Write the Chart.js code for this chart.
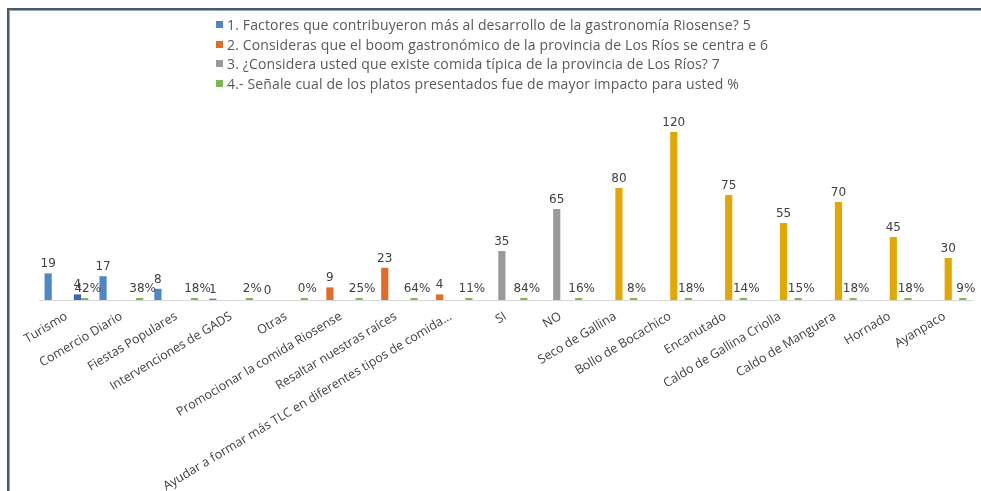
<!DOCTYPE html>
<html lang="es">
<head>
  <meta charset="UTF-8">
  <title>Gastronomía Riosense</title>
  <script src="https://cdn.jsdelivr.net/npm/chart.js"></script>
  <style>
    body {
      margin: 0;
      background: #fff;
    }
    #wrap {
      position: relative;
      width: 981px;
      height: 491px;
      overflow: hidden;
    }
    #frame {
      position: absolute;
      left: 7px;
      top: 8px;
      right: -10px;
      bottom: -10px;
      border-top: 2px solid #4a586b;
      border-left: 2px solid #4a586b;
      box-shadow: inset 1px 1px 0 #9aa6b4;
      pointer-events: none;
    }
    #legend {
      position: absolute;
      left: 216px;
      top: 15px;
      font-family: "Open Sans", sans-serif;
      font-size: 14px;
      letter-spacing: 0.15px;
      color: #595959;
    }
    .item {
      height: 19.5px;
      line-height: 19px;
      white-space: nowrap;
    }
    .item span {
      display: inline-block;
      width: 7px;
      height: 7px;
      margin-right: 4px;
      vertical-align: 2px;
    }
  </style>
</head>
<body>
  <div id="wrap">
    <canvas id="chart" width="981" height="491"></canvas>
    <div id="legend"></div>
    <div id="frame"></div>
  </div>

  <script>
    const categories = [
      'Turismo', 'Comercio Diario', 'Fiestas Populares', 'Intervenciones de GADS', 'Otras',
      'Promocionar la comida Riosense', 'Resaltar nuestras raíces',
      'Ayudar a formar más TLC en diferentes tipos de comida...',
      'SI', 'NO', 'Seco de Gallina', 'Bollo de Bocachico', 'Encanutado',
      'Caldo de Gallina Criolla', 'Caldo de Manguera', 'Hornado', 'Ayanpaco'
    ];

    // question 1 (blue)
    const factores = [19, 17, 8, 1, 0, null, null, null, null, null, null, null, null, null, null, null, null];
    // question 2 (orange)
    const boom = [null, null, null, null, null, 9, 23, 4, null, null, null, null, null, null, null, null, null];
    // question 3 (gray)
    const comidaTipica = [null, null, null, null, null, null, null, null, 35, 65, null, null, null, null, null, null, null];
    // dishes counts (gold, not in legend)
    const platos = [null, null, null, null, null, null, null, null, null, null, 80, 120, 75, 55, 70, 45, 30];
    // extra value on Turismo (dark blue, not in legend)
    const otros = [4, null, null, null, null, null, null, null, null, null, null, null, null, null, null, null, null];
    // percentages (green)
    const porcentajes = [0.42, 0.38, 0.18, 0.02, 0, 0.25, 0.64, 0.11, 0.84, 0.16, 0.08, 0.18, 0.14, 0.15, 0.18, 0.18, 0.09];

    const datasets = [
      { label: '1. Factores que contribuyeron más al desarrollo de la gastronomía Riosense? 5', data: factores, backgroundColor: '#4f86c6', inLegend: true },
      { label: '2. Consideras que el boom gastronómico de la provincia de Los Ríos se centra e 6', data: boom, backgroundColor: '#e06d2a', inLegend: true },
      { label: '3. ¿Considera usted que existe comida típica de la provincia de Los Ríos? 7', data: comidaTipica, backgroundColor: '#9a9a9a', inLegend: true },
      { label: '4.- Señale cual de los platos presentados fue de mayor impacto para usted', data: platos, backgroundColor: '#e2a700', inLegend: false },
      { label: 'Otros', data: otros, backgroundColor: '#3d67b0', inLegend: false },
      { label: '4.- Señale cual de los platos presentados fue de mayor impacto para usted %', data: porcentajes, backgroundColor: '#7cb655', inLegend: true, percent: true, minBarLength: 2 }
    ];

    // value labels above each bar
    const valueLabels = {
      id: 'valueLabels',
      afterDatasetsDraw(chart) {
        const ctx = chart.ctx;
        ctx.save();
        ctx.font = '12px "DejaVu Sans", sans-serif';
        ctx.fillStyle = '#404040';
        ctx.textAlign = 'center';
        ctx.textBaseline = 'alphabetic';
        chart.data.datasets.forEach((ds, i) => {
          chart.getDatasetMeta(i).data.forEach((bar, j) => {
            const v = ds.data[j];
            if (v === null || v === undefined) return;
            const txt = ds.percent ? Math.round(v * 100) + '%' : String(v);
            const top = ds.percent ? Math.min(bar.y, chart.scales.y.getPixelForValue(0) - 1) : bar.y;
            ctx.fillText(txt, bar.x + (ds.percent ? 3 : 0), top - 6);
          });
        });
        ctx.restore();
      }
    };

    const chart = new Chart(document.getElementById('chart'), {
      type: 'bar',
      data: { labels: categories, datasets: datasets },
      options: {
        responsive: false,
        animation: false,
        layout: { padding: { left: 39, right: 9, top: 104, bottom: 0 } },
        datasets: {
          bar: { categoryPercentage: 0.8, barPercentage: 0.98 }
        },
        plugins: {
          legend: { display: false },
          tooltip: { enabled: false }
        },
        scales: {
          x: {
            grid: { display: false },
            border: { display: true, color: '#d9d9d9', width: 1 },
            ticks: {
              autoSkip: false,
              minRotation: 31,
              maxRotation: 31,
              padding: 1,
              color: '#404040',
              font: { family: '"Open Sans", sans-serif', size: 12.5 }
            },
            afterFit(scale) { scale.height = 191; }
          },
          y: {
            display: false,
            min: 0,
            max: 140
          }
        }
      },
      plugins: [valueLabels]
    });

    // legend with one entry per line
    const legend = document.getElementById('legend');
    chart.data.datasets.filter(ds => ds.inLegend).forEach(ds => {
      const row = document.createElement('div');
      row.className = 'item';
      const box = document.createElement('span');
      box.style.background = ds.backgroundColor;
      row.appendChild(box);
      row.appendChild(document.createTextNode(ds.label));
      legend.appendChild(row);
    });
  </script>
</body>
</html>
